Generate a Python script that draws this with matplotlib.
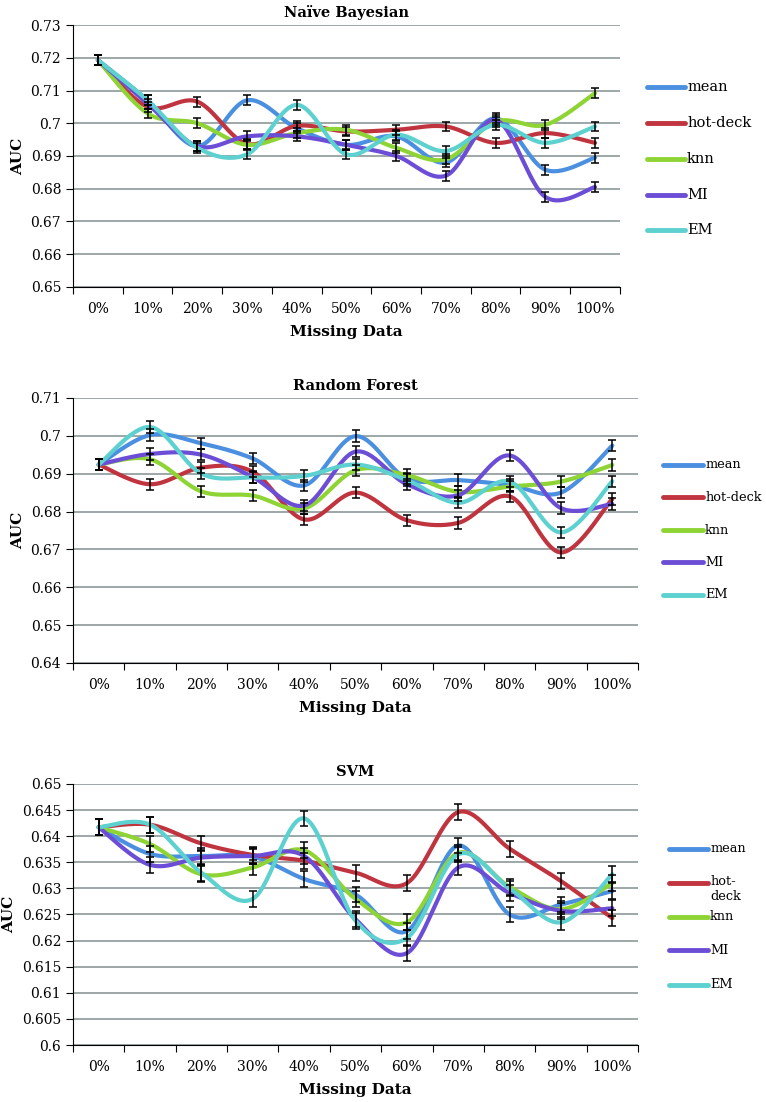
import numpy as np
import matplotlib
matplotlib.use("Agg")
import matplotlib.pyplot as plt
from matplotlib.ticker import FuncFormatter

## Data
categories = ["0%", "10%", "20%", "30%", "40%", "50%", "60%", "70%", "80%", "90%", "100%"]
methods = ["mean", "hot-deck", "knn", "MI", "EM"]
colors = ["#4a8fe0", "#c0343f", "#8ed434", "#6c4ed6", "#5dd0d0"]

nb_mean = [0.7193, 0.707, 0.693, 0.707, 0.6985, 0.6934, 0.696, 0.688, 0.7015, 0.6858, 0.6895]
nb_hotdeck = [0.7193, 0.705, 0.7066, 0.6937, 0.6992, 0.6975, 0.698, 0.699, 0.694, 0.697, 0.694]
nb_knn = [0.7193, 0.703, 0.700, 0.6934, 0.697, 0.698, 0.6925, 0.689, 0.7005, 0.6995, 0.7092]
nb_mi = [0.7193, 0.706, 0.693, 0.696, 0.696, 0.6934, 0.690, 0.684, 0.701, 0.6775, 0.6805]
nb_em = [0.7193, 0.707, 0.6925, 0.6905, 0.7056, 0.6905, 0.6965, 0.6915, 0.6995, 0.694, 0.699]

rf_mean = [0.6924, 0.7002, 0.698, 0.694, 0.6869, 0.6999, 0.6887, 0.6883, 0.687, 0.685, 0.6974]
rf_hotdeck = [0.6924, 0.6872, 0.6916, 0.6905, 0.6779, 0.685, 0.6777, 0.677, 0.684, 0.6692, 0.6833]
rf_knn = [0.6924, 0.6938, 0.6853, 0.6842, 0.6808, 0.6909, 0.6896, 0.6852, 0.6866, 0.6879, 0.6923]
rf_mi = [0.6924, 0.6952, 0.695, 0.6891, 0.6816, 0.6958, 0.6872, 0.6843, 0.6948, 0.6809, 0.682]
rf_em = [0.6924, 0.7023, 0.690, 0.689, 0.6894, 0.6924, 0.6883, 0.6823, 0.6879, 0.6745, 0.688]

svm_mean = [0.6417, 0.6366, 0.6362, 0.6361, 0.6318, 0.6288, 0.6218, 0.6382, 0.625, 0.6269, 0.6295]
svm_hotdeck = [0.6417, 0.6422, 0.6386, 0.6364, 0.6353, 0.633, 0.631, 0.6446, 0.6376, 0.6314, 0.6243]
svm_knn = [0.6417, 0.6385, 0.6327, 0.634, 0.6373, 0.628, 0.6235, 0.6368, 0.6303, 0.626, 0.631]
svm_mi = [0.6417, 0.6345, 0.6359, 0.6362, 0.6362, 0.6241, 0.6176, 0.634, 0.6291, 0.6257, 0.6262]
svm_em = [0.6417, 0.6422, 0.633, 0.628, 0.6434, 0.6238, 0.6205, 0.6365, 0.630, 0.6235, 0.6327]

err = 0.0015

plt.rcParams['font.family'] = ['DejaVu Serif']

W, H = 766, 1102


def smooth(x, y, n=30):
    # catmull-rom spline, like excel's smoothed line
    x = np.asarray(x, float)
    y = np.asarray(y, float)
    px = np.concatenate([[x[0]], x, [x[-1]]])
    py = np.concatenate([[y[0]], y, [y[-1]]])
    xs, ys = [], []
    t = np.linspace(0, 1, n)
    for i in range(1, len(px) - 2):
        for p, out in ((px, xs), (py, ys)):
            p0, p1, p2, p3 = p[i - 1], p[i], p[i + 1], p[i + 2]
            c1 = p1 + (p2 - p0) / 6
            c2 = p2 - (p3 - p1) / 6
            out.append((1 - t) ** 3 * p1 + 3 * (1 - t) ** 2 * t * c1 + 3 * (1 - t) * t ** 2 * c2 + t ** 3 * p2)
    return np.concatenate(xs), np.concatenate(ys)


def legend(fig, labels, x0, x1, ys, fs):
    # hand-made legend, positions in pixels from top-left
    for lab, c, y in zip(labels, colors, ys):
        fig.add_artist(plt.Line2D([x0 / W, x1 / W], [1 - y / H, 1 - y / H], color=c, lw=3.5,
                                  solid_capstyle="round", transform=fig.transFigure))
        if "\n" in lab:
            fig.text((x1 + 2) / W, 1 - (y - 8) / H, lab, fontsize=fs, va="top", ha="left",
                     linespacing=1.15)
        else:
            fig.text((x1 + 2) / W, 1 - y / H, lab, fontsize=fs, va="center", ha="left")


def panel(ax, title, series, ylim, ystep):
    x = np.arange(len(categories))
    for vals, c in zip(series, colors):
        sx, sy = smooth(x, vals)
        ax.plot(sx, sy, color=c, lw=3, solid_capstyle="round")
    for vals in series:
        ax.errorbar(x, vals, yerr=err, fmt="none", ecolor="black", elinewidth=1.1, capsize=3, capthick=1.1)
    ax.set_xlim(-0.5, len(categories) - 0.5)
    ax.set_ylim(*ylim)
    ax.set_xticks(np.arange(-0.5, len(categories) + 0.5, 1))
    ax.set_xticklabels([])
    ax.set_xticks(x, minor=True)
    ax.set_xticklabels(categories, minor=True, fontsize=10)
    ax.tick_params(axis="x", which="minor", length=0, pad=11)
    ax.tick_params(axis="x", which="major", length=5, direction="out")
    ax.set_yticks(np.arange(ylim[0], ylim[1] + ystep / 2, ystep))
    ax.yaxis.set_major_formatter(FuncFormatter(lambda v, p: "{:g}".format(round(v, 4))))
    ax.tick_params(axis="y", length=5, labelsize=10)
    ax.grid(axis="y", color="#8c9898", lw=1.2)
    ax.set_axisbelow(True)
    for s in ["top", "right"]:
        ax.spines[s].set_visible(False)
    ax.set_title(title, fontweight="bold", fontsize=10.5, pad=6)
    ax.set_ylabel("AUC", fontweight="bold", fontsize=11)
    ax.set_xlabel("Missing Data", fontweight="bold", fontsize=11, labelpad=6)


fig = plt.figure(figsize=(7.66, 11.02), dpi=100)
ax1 = fig.add_axes([0.0953, 0.7396, 0.714, 0.2377])
ax2 = fig.add_axes([0.0953, 0.3984, 0.7376, 0.2405])
ax3 = fig.add_axes([0.0953, 0.0517, 0.7376, 0.2369])

panel(ax1, "Naïve Bayesian", [nb_mean, nb_hotdeck, nb_knn, nb_mi, nb_em], (0.65, 0.73), 0.01)
panel(ax2, "Random Forest", [rf_mean, rf_hotdeck, rf_knn, rf_mi, rf_em], (0.64, 0.71), 0.01)
panel(ax3, "SVM", [svm_mean, svm_hotdeck, svm_knn, svm_mi, svm_em], (0.60, 0.65), 0.005)

legend(fig, methods, 647, 685, [87, 123, 159, 195, 230], 10.5)
legend(fig, methods, 663, 703, [465, 497, 530, 562, 595], 9.3)
legend(fig, ["mean", "hot-\ndeck", "knn", "MI", "EM"], 669, 708, [849, 883, 917, 950, 985], 9.3)

fig.savefig("out.png", dpi=100)
